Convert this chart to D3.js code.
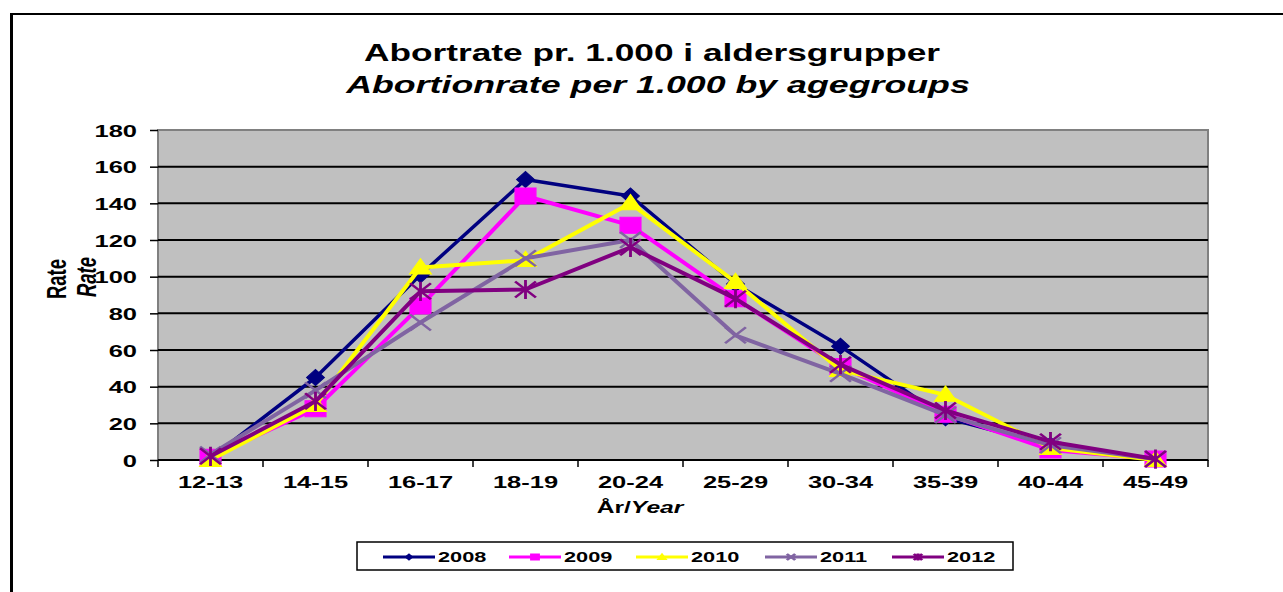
<!DOCTYPE html>
<html>
<head>
<meta charset="utf-8">
<script src="https://cdn.jsdelivr.net/npm/d3@7"></script>
<style>
  body { margin: 0; background: #fff; }
  text { font-family: "Liberation Sans", Arial, sans-serif; font-weight: bold; fill: #000; }
</style>
</head>
<body>
<div id="chart"></div>
<script>

// data
var ageGroups = ["12-13", "14-15", "16-17", "18-19", "20-24", "25-29", "30-34", "35-39", "40-44", "45-49"];
var years = ["2008", "2009", "2010", "2011", "2012"];
var rate2008 = [1, 45, 101, 153, 144, 96, 62, 23, 8, 0.5];
var rate2009 = [1.5, 28, 84, 144, 128, 88, 51, 25, 5.5, 0.5];
var rate2010 = [0, 30, 105, 109, 140, 97, 49, 35.5, 6.5, 0];
var rate2011 = [3, 38, 75, 110, 120, 68, 47, 24.5, 8, 0.5];
var rate2012 = [2, 32, 92, 93, 116, 88, 52, 27, 10, 0.5];
var yTicks = [0, 20, 40, 60, 80, 100, 120, 140, 160, 180];

var svgWidth = 1283;
var svgHeight = 592;

// the original picture is stretched sideways, so text is too
var K = 1.5;

var plot = { left: 158, right: 1208, top: 130, bottom: 460 };

var seriesList = [
  { name: years[0], values: rate2008, color: "#000080", mark: "diamond", width: 3.5 },
  { name: years[1], values: rate2009, color: "#FF00FF", mark: "square", width: 4 },
  { name: years[2], values: rate2010, color: "#FFFF00", mark: "triangle", width: 4 },
  { name: years[3], values: rate2011, color: "#8064A2", mark: "cross", width: 4 },
  { name: years[4], values: rate2012, color: "#800080", mark: "star", width: 4 }
];

var svg = d3.select("#chart")
  .append("svg")
  .attr("width", svgWidth)
  .attr("height", svgHeight);

// outer frame (only top and left edges show)
svg.append("line")
  .attr("x1", 11.5).attr("y1", 14).attr("x2", svgWidth).attr("y2", 14)
  .attr("stroke", "#000").attr("stroke-width", 2);
svg.append("line")
  .attr("x1", 11.5).attr("y1", 13).attr("x2", 11.5).attr("y2", svgHeight)
  .attr("stroke", "#000").attr("stroke-width", 3);

// title
svg.append("text")
  .attr("transform", `translate(652, 61) scale(1.47, 1)`)
  .attr("text-anchor", "middle")
  .style("font-size", "24px")
  .text("Abortrate pr. 1.000 i aldersgrupper");

svg.append("text")
  .attr("transform", `translate(658, 93) scale(1.49, 1)`)
  .attr("text-anchor", "middle")
  .style("font-size", "24px")
  .style("font-style", "italic")
  .text("Abortionrate per 1.000 by agegroups");

var xScale = d3.scaleBand()
  .domain(ageGroups)
  .range([plot.left, plot.right])
  .padding(0);

var yScale = d3.scaleLinear()
  .domain([0, 180])
  .range([plot.bottom, plot.top]);

var cx = d => xScale(d) + xScale.bandwidth() / 2;

// plot background
svg.append("rect")
  .attr("x", plot.left)
  .attr("y", plot.top)
  .attr("width", plot.right - plot.left)
  .attr("height", plot.bottom - plot.top)
  .attr("fill", "#C0C0C0")
  .attr("stroke", "#808080")
  .attr("stroke-width", 2);

// gridlines
svg.append("g")
  .selectAll("line")
  .data(yTicks.filter(v => v > 0 && v < 180))
  .enter()
  .append("line")
  .attr("x1", plot.left)
  .attr("x2", plot.right)
  .attr("y1", d => yScale(d))
  .attr("y2", d => yScale(d))
  .attr("stroke", "#000")
  .attr("stroke-width", 2);

// y axis
var leftAxis = d3.axisLeft(yScale)
  .tickValues(yTicks)
  .tickSize(8)
  .tickSizeOuter(0);

var yAxis = svg.append("g")
  .attr("transform", `translate(${plot.left}, 0)`)
  .call(leftAxis);
yAxis.select(".domain").remove();
yAxis.selectAll("line").attr("stroke", "#000").attr("stroke-width", 1.5);
yAxis.selectAll("text")
  .attr("x", -21 / K)
  .attr("dy", "0.36em")
  .attr("transform", `scale(${K}, 1)`)
  .style("font-size", "17px")
  .style("font-family", "\"Liberation Sans\", Arial, sans-serif");

// x axis line + boundary ticks
svg.append("line")
  .attr("x1", plot.left).attr("x2", plot.right)
  .attr("y1", plot.bottom).attr("y2", plot.bottom)
  .attr("stroke", "#000").attr("stroke-width", 2);

var bounds = ageGroups.map(d => xScale(d)).concat([plot.right]);
svg.append("g")
  .selectAll("line")
  .data(bounds)
  .enter()
  .append("line")
  .attr("x1", d => d).attr("x2", d => d)
  .attr("y1", plot.bottom).attr("y2", plot.bottom + 7)
  .attr("stroke", "#000").attr("stroke-width", 1.5);

svg.append("g")
  .selectAll("text")
  .data(ageGroups)
  .enter()
  .append("text")
  .attr("transform", d => `translate(${cx(d)}, 488) scale(${K}, 1)`)
  .attr("text-anchor", "middle")
  .style("font-size", "17px")
  .text(d => d);

// axis titles
var xTitle = svg.append("text")
  .attr("transform", `translate(640, 513) scale(1.45, 1)`)
  .attr("text-anchor", "middle")
  .style("font-size", "17px");
xTitle.append("tspan").text("År/");
xTitle.append("tspan").style("font-style", "italic").text("Year");

svg.append("text")
  .attr("transform", `translate(66, 279) scale(${K}, 1) rotate(-90)`)
  .attr("text-anchor", "middle")
  .style("font-size", "18.5px")
  .text("Rate");

svg.append("text")
  .attr("transform", `translate(96, 277) scale(${K}, 1) rotate(-90)`)
  .attr("text-anchor", "middle")
  .style("font-size", "18.5px")
  .style("font-style", "italic")
  .text("Rate");

// marker shapes
function markPath(kind, s) {
  if (kind === "diamond") return `M0,${-s}L${s * 0.85},0L0,${s}L${-s * 0.85},0Z`;
  if (kind === "square") return `M${-s},${-s}H${s}V${s}H${-s}Z`;
  if (kind === "triangle") return `M0,${-s * 1.1}L${s * 1.05},${s * 0.8}L${-s * 1.05},${s * 0.8}Z`;
  if (kind === "cross") return `M${-s},${-s}L${s},${s}M${-s},${s}L${s},${-s}`;
  return `M${-s},${-s}L${s},${s}M${-s},${s}L${s},${-s}M0,${-s * 1.2}L0,${s * 1.2}`;
}

function drawMark(g, ser, x, y, s, k) {
  var open = ser.mark === "cross" || ser.mark === "star";
  g.append("path")
    .attr("d", markPath(ser.mark, s))
    .attr("transform", `translate(${x}, ${y}) scale(${k}, 1)`)
    .attr("fill", open ? "none" : ser.color)
    .attr("stroke", ser.color)
    .attr("stroke-width", open ? 2.2 : 1);
}

var line = d3.line()
  .x((d, i) => cx(ageGroups[i]))
  .y(d => yScale(d));

seriesList.forEach(function(ser) {
  var g = svg.append("g");
  g.append("path")
    .datum(ser.values)
    .attr("d", line)
    .attr("fill", "none")
    .attr("stroke", ser.color)
    .attr("stroke-width", ser.width)
    .attr("stroke-linejoin", "round");
  ser.values.forEach(function(v, i) {
    drawMark(g, ser, cx(ageGroups[i]), yScale(v), 8, 1.3);
  });
});

// legend
var legend = svg.append("g");
legend.append("rect")
  .attr("x", 357).attr("y", 542)
  .attr("width", 656).attr("height", 28)
  .attr("fill", "#fff")
  .attr("stroke", "#000")
  .attr("stroke-width", 1.5);

var legendX = [383, 509, 636, 765, 892];
seriesList.forEach(function(ser, i) {
  var lx = legendX[i];
  legend.append("line")
    .attr("x1", lx).attr("x2", lx + 52)
    .attr("y1", 557).attr("y2", 557)
    .attr("stroke", ser.color)
    .attr("stroke-width", 3);
  drawMark(legend, ser, lx + 26, 557, 3, 1.4);
  legend.append("text")
    .attr("transform", `translate(${lx + 55}, 562) scale(${K}, 1)`)
    .style("font-size", "14.5px")
    .text(ser.name);
});

</script>
</body>
</html>
